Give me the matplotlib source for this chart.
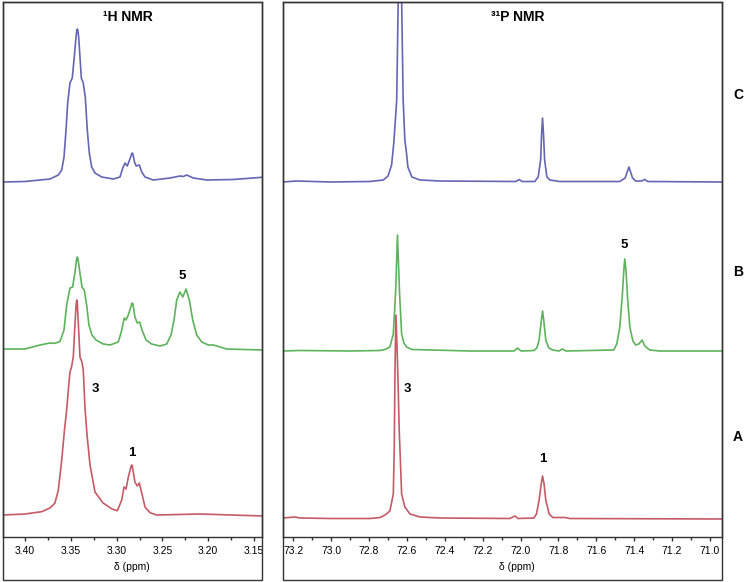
import matplotlib
matplotlib.use("Agg")
import matplotlib.pyplot as plt
from matplotlib.patches import Rectangle
from matplotlib.ticker import MultipleLocator, FormatStrFormatter

plt.rcParams['font.family'] = ['Liberation Sans', 'DejaVu Sans']

# ---- 1H NMR traces (ppm, intensity above own baseline) ----
h_c_ppm = [3.4240, 3.4000, 3.3836, 3.3727, 3.3636, 3.3599, 3.3574, 3.3552, 3.3534, 3.3509,
           3.3484, 3.3462, 3.3443, 3.3435, 3.3429, 3.3422, 3.3414, 3.3400, 3.3385, 3.3364,
           3.3342, 3.3320, 3.3298, 3.3272, 3.3236, 3.3163, 3.3036, 3.2963, 3.2933, 3.2908,
           3.2883, 3.2859, 3.2835, 3.2829, 3.2822, 3.2805, 3.2786, 3.2752, 3.2726, 3.2690,
           3.2599, 3.2417, 3.2308, 3.2272, 3.2235, 3.2163, 3.2016, 3.1729, 3.1413]
h_c_int = [0, 0.5, 2, 3, 7, 12, 25, 52, 79, 99,
           104, 125, 145, 151, 153, 151, 145, 125, 104, 99,
           85, 52, 29, 15, 9, 5, 3, 5, 14, 19,
           16, 22, 28, 29, 28, 20, 16, 17, 10, 5,
           2, 4, 6, 5.5, 7, 4, 2, 2.5, 4.7]

h_b_ppm = [3.4240, 3.4000, 3.3836, 3.3727, 3.3673, 3.3618, 3.3574, 3.3545, 3.3509, 3.3480,
           3.3454, 3.3436, 3.3429, 3.3421, 3.3403, 3.3378, 3.3353, 3.3327, 3.3302, 3.3269,
           3.3225, 3.3145, 3.3072, 3.2982, 3.2952, 3.2916, 3.2898, 3.2872, 3.2835, 3.2829,
           3.2822, 3.2800, 3.2775, 3.2748, 3.2723, 3.2679, 3.2617, 3.2526, 3.2453, 3.2406,
           3.2373, 3.2344, 3.2308, 3.2278, 3.2242, 3.2206, 3.2169, 3.2126, 3.2071, 3.1999,
           3.1944, 3.1907, 3.1798, 3.1413]
h_b_int = [0, 0, 4, 6, 5.7, 7.5, 19, 44, 61, 62,
           77, 90, 92, 90, 78, 62, 59, 44, 24, 14,
           9, 5, 4, 7, 16, 31, 29, 34, 45, 46,
           45, 32, 26, 27, 19, 9, 5, 3, 5, 14,
           29, 49, 57, 52, 60, 49, 29, 14, 7, 4,
           4, 3, 0, -1]

h_a_ppm = [3.4240, 3.4000, 3.3818, 3.3727, 3.3673, 3.3636, 3.3599, 3.3569, 3.3545, 3.3527,
           3.3509, 3.3492, 3.3473, 3.3454, 3.3442, 3.3435, 3.3428, 3.3418, 3.3400, 3.3378,
           3.3364, 3.3345, 3.3323, 3.3290, 3.3236, 3.3148, 3.3050, 3.2992, 3.2944, 3.2919,
           3.2897, 3.2872, 3.2841, 3.2835, 3.2829, 3.2800, 3.2775, 3.2752, 3.2726, 3.2690,
           3.2635, 3.2562, 3.2090, 3.1402]
h_a_int = [0, 1, 3.3, 7, 12, 25, 55, 85, 105, 125,
           143, 148, 158, 192, 210, 215, 210, 192, 158, 153,
           145, 107, 80, 50, 23, 12, 6, 4.3, 15, 28,
           26, 38, 49, 50, 49, 33, 29, 32, 22, 8,
           2.3, 0, 1, -1]

# ---- 31P NMR traces ----
p_c_ppm = [73.256, 73.182, 73.006, 72.795, 72.725, 72.700, 72.681, 72.669, 72.654, 72.646,
           72.637, 72.628, 72.620, 72.611, 72.603, 72.595, 72.574, 72.531, 72.426, 72.025,
           72.007, 71.993, 71.925, 71.907, 71.894, 71.889, 71.884, 71.879, 71.873, 71.861,
           71.845, 71.793, 71.476, 71.448, 71.437, 71.428, 71.419, 71.409, 71.392, 71.360,
           71.344, 71.329, 70.939]
p_c_int = [0, 1, 0, 0.5, 2, 6, 17, 40, 82, 182,
           260, 182, 82, 42, 30, 15, 5, 2, 1, 0.5,
           2.5, 0.5, 0.5, 5, 22, 48, 64, 48, 22, 5,
           2, 0.5, 0.5, 4, 10, 15, 10, 4, 1, 1,
           2.5, 0.5, 0]

p_b_ppm = [73.256, 73.165, 72.901, 72.742, 72.716, 72.690, 72.672, 72.660, 72.650, 72.639,
           72.628, 72.616, 72.602, 72.574, 72.268, 72.035, 72.016, 71.998, 71.930, 71.914,
           71.902, 71.892, 71.884, 71.876, 71.867, 71.851, 71.830, 71.798, 71.778, 71.761,
           71.508, 71.492, 71.476, 71.463, 71.455, 71.450, 71.443, 71.434, 71.423, 71.407,
           71.392, 71.376, 71.358, 71.344, 71.318, 71.265, 70.939]
p_b_int = [0, 0.5, 0, 0.5, 1.5, 4, 17, 58, 116, 58,
           17, 8, 4, 1.5, 0, 0, 3, 0, 0.5, 3,
           11, 28, 40, 28, 11, 3, 1, 0, 2, 0,
           1, 7, 24, 55, 80, 92, 80, 50, 24, 10,
           6, 7, 11, 5, 1, 0, 0]

p_a_ppm = [73.256, 73.191, 73.165, 73.006, 72.795, 72.742, 72.716, 72.690, 72.672, 72.667,
           72.663, 72.658, 72.652, 72.646, 72.641, 72.633, 72.628, 72.611, 72.584, 72.531,
           72.426, 72.056, 72.030, 72.014, 71.930, 71.916, 71.902, 71.891, 71.884, 71.876,
           71.867, 71.849, 71.830, 71.766, 71.740, 70.939]
p_a_int = [1, 2, 1, 0.5, 0.5, 1.5, 4, 8, 25, 70,
           150, 204, 170, 130, 90, 50, 25, 12, 5, 2,
           1, 0.5, 3, 0.5, 1, 5, 19, 35, 43, 35,
           19, 5, 1.5, 1.5, 0.5, 0]

h_offsets = [355, 188, 22]
p_offsets = [355, 186, 18]
colors = ['#6565b5', '#5cb35c', '#c65a66']

W, H = 748, 582
fig = plt.figure(figsize=(W / 100, H / 100), dpi=100)


def frac(x0, y0, x1, y1):
    return [x0 / W, 1 - y1 / H, (x1 - x0) / W, (y1 - y0) / H]


ax_h = fig.add_axes(frac(3, 2, 262, 537))
ax_p = fig.add_axes(frac(282.7, 2, 721.7, 537))

for ppm, val, off, col in zip([h_c_ppm, h_b_ppm, h_a_ppm], [h_c_int, h_b_int, h_a_int],
                              h_offsets, colors):
    ax_h.plot(ppm, [v + off for v in val], color=col, lw=1.2, solid_joinstyle='round')
for ppm, val, off, col in zip([p_c_ppm, p_b_ppm, p_a_ppm], [p_c_int, p_b_int, p_a_int],
                              p_offsets, colors):
    ax_p.plot(ppm, [v + off for v in val], color=col, lw=1.2, solid_joinstyle='round')

ax_h.set_xlim(3.4240, 3.1413)
ax_p.set_xlim(73.256, 70.938)
ax_h.xaxis.set_major_locator(MultipleLocator(0.05))
ax_h.xaxis.set_minor_locator(MultipleLocator(0.025))
ax_h.xaxis.set_major_formatter(FormatStrFormatter('%.2f'))
ax_p.xaxis.set_major_locator(MultipleLocator(0.2))
ax_p.xaxis.set_minor_locator(MultipleLocator(0.1))
ax_p.xaxis.set_major_formatter(FormatStrFormatter('%.1f'))

for ax in (ax_h, ax_p):
    ax.set_ylim(0, 535)
    ax.set_yticks([])
    ax.tick_params(axis='x', which='major', direction='out', length=3, width=1,
                   labelsize=7.5, pad=3.5, color='#333333')
    ax.tick_params(axis='x', which='minor', direction='out', length=1.8, width=1,
                   color='#333333')
    for s in ax.spines.values():
        s.set_color('#333333')
        s.set_linewidth(1)

# outer boxes round each panel
for x0, x1 in ((3, 262), (282.7, 721.7)):
    fig.patches.append(Rectangle((x0 / W, 2 / H), (x1 - x0) / W, (H - 4) / H,
                                 transform=fig.transFigure, fill=False,
                                 edgecolor='#333333', lw=1))

fig.text(128 / W, 1 - 17 / H, '¹H NMR', ha='center', va='center', fontsize=10, fontweight='bold')
fig.text(518 / W, 1 - 17 / H, '³¹P NMR', ha='center', va='center', fontsize=10, fontweight='bold')
fig.text(131.7 / W, 1 - 566.7 / H, 'δ (ppm)', ha='center', va='center', fontsize=7.5)
fig.text(516.7 / W, 1 - 566.7 / H, 'δ (ppm)', ha='center', va='center', fontsize=7.5)

for lab, yy in (('C', 95), ('B', 272), ('A', 437)):
    fig.text(738 / W, 1 - yy / H, lab, ha='center', va='center', fontsize=10, fontweight='bold')

ax_h.text(3.2286, 261, '5', ha='center', va='center', fontsize=9.5, fontweight='bold')
ax_h.text(3.3228, 148, '3', ha='center', va='center', fontsize=9.5, fontweight='bold')
ax_h.text(3.2835, 84, '1', ha='center', va='center', fontsize=9.5, fontweight='bold')
ax_p.text(72.596, 148, '3', ha='center', va='center', fontsize=9.5, fontweight='bold')
ax_p.text(71.884, 78, '1', ha='center', va='center', fontsize=9.5, fontweight='bold')
ax_p.text(71.450, 292, '5', ha='center', va='center', fontsize=9.5, fontweight='bold')

fig.savefig('out.png', dpi=100)
